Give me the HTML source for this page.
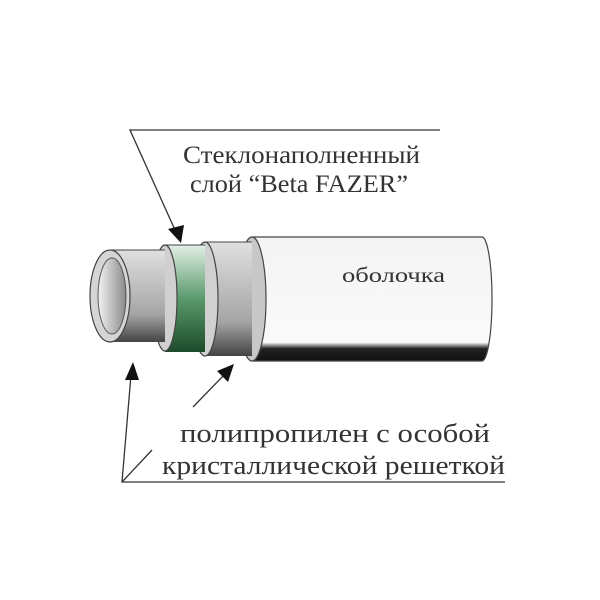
<!DOCTYPE html>
<html><head><meta charset="utf-8"><style>
html,body{margin:0;padding:0;background:#fff;width:600px;height:600px;overflow:hidden}
</style></head><body>
<svg width="600" height="600" viewBox="0 0 600 600" xmlns="http://www.w3.org/2000/svg">
<defs>
<linearGradient id="sh" x1="0" y1="0" x2="0" y2="1">
<stop offset="0" stop-color="#f4f4f4"/><stop offset="0.85" stop-color="#fafafa"/><stop offset="0.9" stop-color="#222"/><stop offset="1" stop-color="#111"/></linearGradient>
<linearGradient id="gr" x1="0" y1="0" x2="0" y2="1">
<stop offset="0" stop-color="#e0e0e0"/><stop offset="0.7" stop-color="#a5a5a5"/><stop offset="1" stop-color="#444"/></linearGradient>
<linearGradient id="gn" x1="0" y1="0" x2="0" y2="1">
<stop offset="0" stop-color="#e3efe6"/><stop offset="0.5" stop-color="#5a9a6c"/><stop offset="1" stop-color="#1c4a2a"/></linearGradient>
<linearGradient id="hole" x1="0" y1="0" x2="1" y2="0">
<stop offset="0" stop-color="#f2f2f2"/><stop offset="1" stop-color="#8a8a8a"/></linearGradient>
</defs>
<path d="M252 237 L482 237 A10 62 0 0 1 482 361 L252 361 Z" fill="url(#sh)" stroke="#444" stroke-width="1.2"/>
<ellipse cx="252" cy="299" rx="14" ry="62" fill="#c8c8c8" stroke="#444" stroke-width="1.2"/>
<path d="M205 242 L252 242 L252 356 L205 356 Z" fill="url(#gr)"/>
<line x1="205" y1="242" x2="252" y2="242" stroke="#444"/>
<ellipse cx="205" cy="299" rx="13" ry="57" fill="#d0d0d0" stroke="#444" stroke-width="1.2"/>
<path d="M165 245 L205 245 L205 352 L165 352 Z" fill="url(#gn)"/>
<line x1="165" y1="245" x2="205" y2="245" stroke="#444"/>
<ellipse cx="165" cy="298" rx="12" ry="53" fill="#d0d0d0" stroke="#444" stroke-width="1.2"/>
<path d="M110 250 L165 250 L165 342 L110 342 Z" fill="url(#gr)"/>
<line x1="110" y1="250" x2="165" y2="250" stroke="#444"/>
<ellipse cx="110" cy="296" rx="20" ry="46" fill="#d5d5d5" stroke="#444" stroke-width="1.2"/>
<ellipse cx="112" cy="296" rx="14" ry="38" fill="url(#hole)" stroke="#555"/>
<g stroke="#333" stroke-width="1.3" fill="none">
<polyline points="440,130 130,130 175,230"/>
<polyline points="505,482 122,482 131,375"/>
<line x1="122" y1="482" x2="152" y2="450"/>
<line x1="193" y1="407" x2="225" y2="374"/>
</g>
<g fill="#111">
<polygon points="181,243 168,229 184,225"/>
<polygon points="133,362 125,380 139,380"/>
<polygon points="234,364 217,371 228,382"/>
</g>
<g font-family="Liberation Serif, serif" fill="#333" lengthAdjust="spacingAndGlyphs">
<text x="183" y="163" font-size="25" textLength="237" lengthAdjust="spacingAndGlyphs">Стеклонаполненный</text>
<text x="190" y="192" font-size="25" textLength="218" lengthAdjust="spacingAndGlyphs">слой “Beta FAZER”</text>
<text x="342" y="282" font-size="21" textLength="103" lengthAdjust="spacingAndGlyphs">оболочка</text>
<text x="180" y="442" font-size="26" textLength="310" lengthAdjust="spacingAndGlyphs">полипропилен с особой</text>
<text x="162" y="474" font-size="26" textLength="343" lengthAdjust="spacingAndGlyphs">кристаллической решеткой</text>
</g>
</svg>
</body></html>
